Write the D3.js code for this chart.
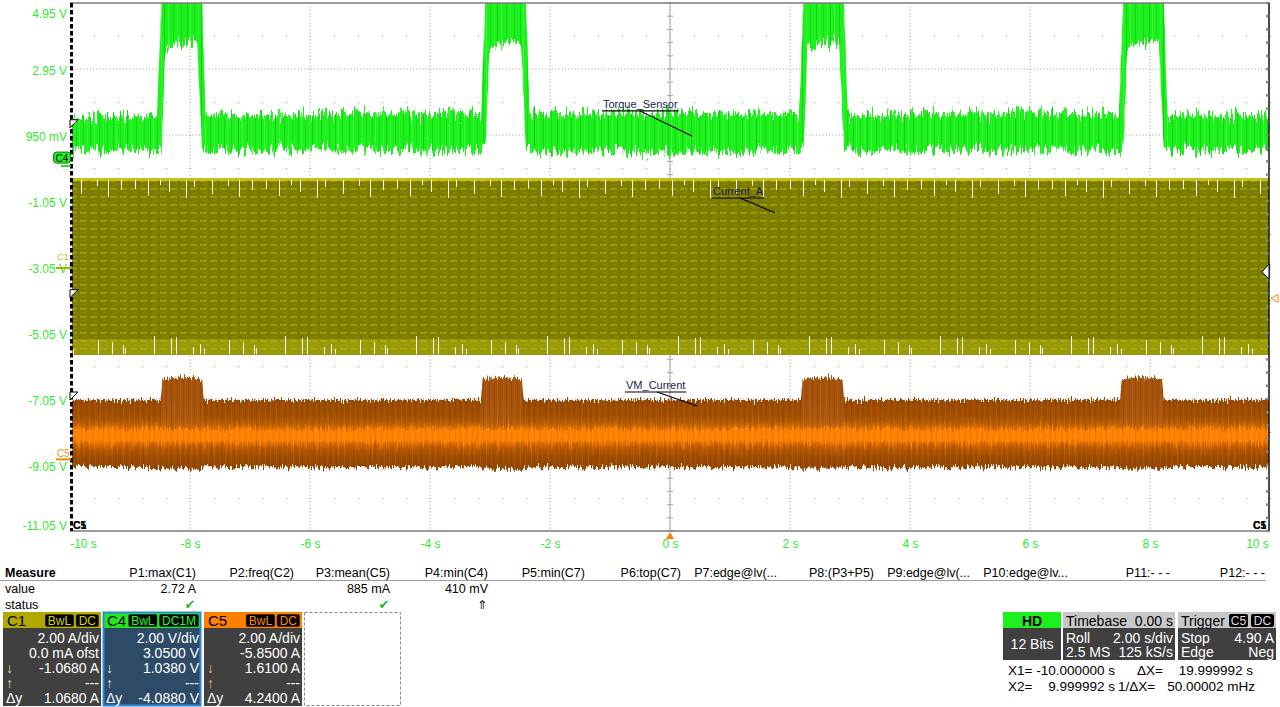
<!DOCTYPE html>
<html><head><meta charset="utf-8">
<script src="https://cdn.jsdelivr.net/npm/d3@7"></script>
<style>
body{margin:0;background:#fff;}
svg{display:block;font-family:"Liberation Sans",Arial,sans-serif;}
</style></head><body><svg id="c" width="1280" height="707"></svg>
<script>
// ---------- DATA ----------
const xTickValues = [-10,-8,-6,-4,-2,0,2,4,6,8,10];
const xTickLabels = ["-10 s","-8 s","-6 s","-4 s","-2 s","0 s","2 s","4 s","6 s","8 s","10 s"];
const yTickValues = [4.95,2.95,0.95,-1.05,-3.05,-5.05,-7.05,-9.05,-11.05];
const yTickLabels = ["4.95 V","2.95 V","950 mV","-1.05 V","-3.05 V","-5.05 V","-7.05 V","-9.05 V","-11.05 V"];

// C4 Torque_Sensor envelope (time s, upper / lower edge, display volts)
const torqueTime = [-10,-9.5,-9,-8.55,-8.47,-8.41,-8.2,-7.95,-7.88,-7.8,-7.74,-7,-6,-5,-4,-3.15,-3.07,-3.01,-2.8,-2.55,-2.48,-2.4,-2.34,-1.5,-0.5,0.5,1.5,2.15,2.23,2.29,2.5,2.75,2.82,2.9,2.96,4,5,6,7,7.48,7.56,7.62,7.83,8.08,8.15,8.23,8.29,9,10];
const torqueHigh = [1.45,1.5,1.5,1.5,5.3,5.3,5.3,5.3,5.3,5.0,1.55,1.55,1.58,1.62,1.6,1.55,5.3,5.3,5.3,5.3,5.3,5.0,1.55,1.62,1.62,1.62,1.6,1.55,5.3,5.3,5.3,5.3,5.3,5.0,1.55,1.58,1.6,1.6,1.58,1.55,5.3,5.3,5.3,5.3,5.3,5.0,1.55,1.55,1.52];
const torqueLow  = [0.5,0.48,0.5,0.45,0.6,3.62,3.72,3.8,3.7,0.5,0.45,0.5,0.52,0.5,0.48,0.45,0.6,3.62,3.72,3.8,3.7,0.5,0.45,0.45,0.42,0.42,0.45,0.45,0.6,3.62,3.72,3.8,3.7,0.5,0.45,0.48,0.5,0.48,0.48,0.45,0.6,3.62,3.72,3.8,3.7,0.5,0.45,0.48,0.5];

// C1 Current_A envelope
const currentTime = [-10, 10];
const currentHigh = [-0.35, -0.35];
const currentLow  = [-5.72, -5.72];

// C5 VM_Current envelope
const vmTime = [-10,-8.49,-8.46,-8.12,-7.8,-7.77,-3.15,-3.12,-2.78,-2.47,-2.44,2.18,2.21,2.55,2.87,2.9,7.5,7.53,7.87,8.2,8.23,10];
const vmHigh = [-7.08,-7.08,-6.45,-6.38,-6.45,-7.08,-7.08,-6.45,-6.38,-6.45,-7.08,-7.08,-6.45,-6.38,-6.45,-7.08,-7.08,-6.45,-6.38,-6.45,-7.08,-7.08];
const vmLow  = [-9.1,-9.12,-9.16,-9.16,-9.16,-9.12,-9.12,-9.16,-9.16,-9.16,-9.12,-9.12,-9.16,-9.16,-9.16,-9.12,-9.12,-9.16,-9.16,-9.16,-9.12,-9.1];
const vmGlowHigh = [-7.92,-7.92,-6.45,-6.38,-6.45,-7.92,-7.92,-6.45,-6.38,-6.45,-7.92,-7.92,-6.45,-6.38,-6.45,-7.92,-7.92,-6.45,-6.38,-6.45,-7.92,-7.92];
const vmCoreTime = [-10, 10];
const vmCoreHigh = [-7.95, -7.95];
const vmCoreLow  = [-8.32, -8.32];

// annotations
const annoLabels = ["Torque_Sensor","Current_A","VM_Current"];

// measurement table
const measureNames  = ["P1:max(C1)","P2:freq(C2)","P3:mean(C5)","P4:min(C4)","P5:min(C7)","P6:top(C7)","P7:edge@lv(...","P8:(P3+P5)","P9:edge@lv(...","P10:edge@lv...","P11:- - -","P12:- - -"];
const measureValues = ["2.72 A","","885 mA","410 mV","","","","","","","",""];
const measureStatus = ["\u2714","","\u2714","\u21D1","","","","","","","",""];

// channel descriptors
const chanNames = ["C1","C4","C5"];
const chanBadges = [["BwL","DC"],["BwL","DC1M"],["BwL","DC"]];
const chanRows = [
  ["2.00 A/div","0.0 mA ofst","-1.0680 A","---","1.0680 A"],
  ["2.00 V/div","3.0500 V","1.0380 V","---","-4.0880 V"],
  ["2.00 A/div","-5.8500 A","1.6100 A","---","4.2400 A"]
];
const rowPrefix = ["","","\u2193","\u2191","\u0394y"];

// ---------- LAYOUT ----------
const L = 70, R = 1270, T = 3, B = 531;
const svg = d3.select("#c");
const x = d3.scaleLinear().domain([-10,10]).range([L,R]);
const y = d3.scaleLinear().domain([-11.05,4.95]).range([B,T]);
const defs = svg.append("defs");

defs.append("clipPath").attr("id","plotClip").append("rect")
  .attr("x",L+2).attr("y",T).attr("width",R-L-3).attr("height",B-T);

// green texture
const gp = defs.append("pattern").attr("id","greenPat").attr("patternUnits","userSpaceOnUse").attr("width",37).attr("height",14);
gp.append("rect").attr("width",37).attr("height",14).attr("fill","#1ef01e");
[[2,"#12d812"],[5,"#38fc38"],[9,"#16dc16"],[13,"#30f630"],[16,"#0ed20e"],[20,"#3afe3a"],[25,"#14d614"],[29,"#2ef42e"],[33,"#18da18"]].forEach(([px,c])=>
  gp.append("rect").attr("x",px).attr("width",1).attr("height",14).attr("fill",c));

const op = defs.append("pattern").attr("id","olivePat").attr("patternUnits","userSpaceOnUse")
  .attr("width",10).attr("height",8).attr("y",y(currentHigh[0]));
op.append("rect").attr("width",10).attr("height",8).attr("fill","#7b7b00");
op.append("rect").attr("y",2).attr("width",7).attr("height",2).attr("fill","#9e9e00");
op.append("rect").attr("x",3).attr("y",6).attr("width",5).attr("height",1).attr("fill","#8a8a00");

const spikeX = [4,17,29,38,55,63,81,97,108,121];
const spikeLen = [9,16,5,12,18,7,14,6,17,10];
const tp = defs.append("pattern").attr("id","oliveTop").attr("patternUnits","userSpaceOnUse")
  .attr("width",131).attr("height",40).attr("y",y(currentHigh[0]));
tp.append("rect").attr("width",131).attr("height",3).attr("fill","#c2c218");
spikeX.forEach((sx,i)=>tp.append("rect").attr("x",sx).attr("y",2).attr("width",1).attr("height",spikeLen[i]).attr("fill","#ffffff"));
const bp = defs.append("pattern").attr("id","oliveBot").attr("patternUnits","userSpaceOnUse")
  .attr("width",131).attr("height",40).attr("y",y(currentLow[0])-40);
bp.append("rect").attr("y",24).attr("width",131).attr("height",16).attr("fill","#b6b610").attr("opacity",0.5);
spikeX.forEach((sx,i)=>bp.append("rect").attr("x",(sx*3+11)%131).attr("y",40-spikeLen[(i+4)%10]-1).attr("width",1).attr("height",spikeLen[(i+4)%10]).attr("fill","#ffffff"));

const og = defs.append("linearGradient").attr("id","orangeGrad").attr("gradientUnits","userSpaceOnUse")
  .attr("x1",0).attr("x2",0).attr("y1",y(-7.08)).attr("y2",y(-9.12));
[[0,"#9a4800"],[0.25,"#a45000"],[0.37,"#c06000"],[0.45,"#ff8000"],[0.6,"#ff8000"],[0.7,"#c05c00"],[0.84,"#9e4c00"],[1,"#944600"]]
  .forEach(([o,c])=>og.append("stop").attr("offset",o).attr("stop-color",c));

const sp = defs.append("pattern").attr("id","streak").attr("patternUnits","userSpaceOnUse").attr("width",17).attr("height",10);
[[1,"#000",0.08],[4,"#fff",0.06],[7,"#000",0.06],[10,"#fff",0.05],[13,"#000",0.08],[15,"#fff",0.04]].forEach(([px,c,o])=>
  sp.append("rect").attr("x",px).attr("width",1).attr("height",10).attr("fill",c).attr("opacity",o));

function rough(id, fx, fy, sc, seed, oct){
  const f = defs.append("filter").attr("id",id).attr("x","-1%").attr("y","-40%").attr("width","102%").attr("height","180%")
    .attr("color-interpolation-filters","sRGB");
  f.append("feTurbulence").attr("type","fractalNoise").attr("baseFrequency",fx+" "+fy).attr("numOctaves",oct).attr("seed",seed).attr("result","n");
  f.append("feColorMatrix").attr("in","n").attr("type","matrix")
    .attr("values","1 0 0 0 0  0 0 0 0 0.5  0 0 0 0 0  0 0 0 0 1").attr("result","m");
  f.append("feDisplacementMap").attr("in","SourceGraphic").attr("in2","m").attr("scale",sc).attr("xChannelSelector","G").attr("yChannelSelector","R");
}
rough("roughG",0.45,0.05,28,3,3);
rough("roughO",0.7,0.05,13,7,3);

// ---------- GRID ----------
const grid = svg.append("g");
const dotC = "#9a9a9a";
xTickValues.slice(1,-1).forEach(v=>{
  grid.append("line").attr("x1",x(v)).attr("x2",x(v)).attr("y1",T).attr("y2",B)
    .attr("stroke",dotC).attr("stroke-dasharray","1,2.3");
});
yTickValues.slice(1,-1).forEach(v=>{
  grid.append("line").attr("x1",L).attr("x2",R).attr("y1",y(v)).attr("y2",y(v))
    .attr("stroke",dotC).attr("stroke-dasharray","1,2.3");
});
const halfRows = d3.range(0,8).map(i=>yTickValues[i]-1);
const minorX = d3.range(-10,10.01,0.4);
halfRows.forEach(v=>minorX.forEach(t=>{
  grid.append("rect").attr("x",x(t)).attr("y",y(v)).attr("width",1).attr("height",1).attr("fill",dotC);
}));
grid.append("line").attr("x1",x(0)).attr("x2",x(0)).attr("y1",T).attr("y2",B).attr("stroke","#a8a8a8");
grid.append("line").attr("x1",L).attr("x2",R).attr("y1",y(-3.05)).attr("y2",y(-3.05)).attr("stroke","#a8a8a8");
d3.range(-11.05,4.96,0.4).forEach(v=>grid.append("line").attr("x1",x(0)-3).attr("x2",x(0)+3).attr("y1",y(v)).attr("y2",y(v)).attr("stroke","#a8a8a8"));
minorX.forEach(t=>grid.append("line").attr("x1",x(t)).attr("x2",x(t)).attr("y1",y(-3.05)-3).attr("y2",y(-3.05)+3).attr("stroke","#a8a8a8"));

// ---------- TRACES ----------
const traces = svg.append("g").attr("clip-path","url(#plotClip)");

const areaC = d3.area().x((d,i)=>x(currentTime[i])).y0((d,i)=>y(currentLow[i])).y1((d,i)=>y(currentHigh[i]));
traces.append("path").datum(currentTime).attr("d",areaC).attr("fill","url(#olivePat)");
const areaCTop = d3.area().x((d,i)=>x(currentTime[i])).y0((d,i)=>y(currentHigh[i])+20).y1((d,i)=>y(currentHigh[i]));
traces.append("path").datum(currentTime).attr("d",areaCTop).attr("fill","url(#oliveTop)");
const areaCBot = d3.area().x((d,i)=>x(currentTime[i])).y0((d,i)=>y(currentLow[i])).y1((d,i)=>y(currentLow[i])-20);
traces.append("path").datum(currentTime).attr("d",areaCBot).attr("fill","url(#oliveBot)");

const og1 = traces.append("g").attr("filter","url(#roughO)");
const areaV = d3.area().x((d,i)=>x(vmTime[i])).y0((d,i)=>y(vmLow[i])).y1((d,i)=>y(vmHigh[i]));
og1.append("path").datum(vmTime).attr("d",areaV).attr("fill","url(#orangeGrad)");
const areaVG = d3.area().x((d,i)=>x(vmTime[i])).y0((d,i)=>y(vmCoreHigh[0])).y1((d,i)=>y(vmGlowHigh[i]));
og1.append("path").datum(vmTime).attr("d",areaVG).attr("fill","#b8621c").attr("opacity",0.4);
const areaVC = d3.area().x((d,i)=>x(vmCoreTime[i])).y0((d,i)=>y(vmCoreLow[i])).y1((d,i)=>y(vmCoreHigh[i]));
og1.append("path").datum(vmCoreTime).attr("d",areaVC).attr("fill","#ff8200").attr("opacity",0.8);
og1.append("path").datum(vmTime).attr("d",areaV).attr("fill","url(#streak)");

const areaT = d3.area().x((d,i)=>x(torqueTime[i])).y0((d,i)=>y(torqueLow[i])).y1((d,i)=>y(torqueHigh[i]));
traces.append("path").datum(torqueTime).attr("d",areaT).attr("fill","url(#greenPat)").attr("filter","url(#roughG)");

// ---------- BORDERS ----------
svg.append("line").attr("x1",L).attr("x2",R).attr("y1",T).attr("y2",T).attr("stroke","#7a7a7a").attr("stroke-width",1.3);
svg.append("line").attr("x1",L).attr("x2",R).attr("y1",B).attr("y2",B).attr("stroke","#7a7a7a").attr("stroke-width",1.3);
svg.append("line").attr("x1",L+1.5).attr("x2",L+1.5).attr("y1",T).attr("y2",B).attr("stroke","#000").attr("stroke-width",3).attr("stroke-dasharray","4.5,2.5");
svg.append("line").attr("x1",R-1).attr("x2",R-1).attr("y1",T).attr("y2",B).attr("stroke","#111").attr("stroke-width",1.5);
d3.range(-11.05,4.96,0.4).forEach(v=>svg.append("line").attr("x1",R-4).attr("x2",R-1.5).attr("y1",y(v)).attr("y2",y(v)).attr("stroke","#888").attr("stroke-width",2.5));

// ---------- AXES ----------
const labelGreen = "#33e833";
const ya = svg.append("g").attr("transform",`translate(${L-3},0)`)
  .call(d3.axisLeft(y).tickValues(yTickValues).tickFormat((d,i)=>yTickLabels[i]).tickSize(0).tickPadding(0));
ya.select(".domain").remove();
ya.selectAll("text").attr("fill",labelGreen).attr("font-size",12).attr("font-family","Liberation Sans, Arial")
  .attr("y",(d,i)=> i===0 ? 11 : (i===yTickValues.length-1 ? -5 : 2));
const xa = svg.append("g").attr("transform",`translate(0,${B+8})`)
  .call(d3.axisBottom(x).tickValues(xTickValues).tickFormat((d,i)=>xTickLabels[i]).tickSize(0).tickPadding(0));
xa.select(".domain").remove();
xa.selectAll("text").attr("fill",labelGreen).attr("font-size",12).attr("font-family","Liberation Sans, Arial")
  .attr("x",(d,i)=> i===0 ? 13 : (i===xTickValues.length-1 ? -13 : 0));

// ---------- MARKERS ----------
svg.append("rect").attr("x",53.5).attr("y",y(0.25)-6).attr("width",17).attr("height",11).attr("rx",3)
  .attr("fill","#22f022").attr("stroke","#0a7a0a");
svg.append("text").attr("x",62).attr("y",y(0.25)+3.5).attr("text-anchor","middle").attr("font-size",10).attr("fill","#000").text("C4");
svg.append("line").attr("x1",61).attr("x2",71).attr("y1",y(0.25)+8).attr("y2",y(0.25)+8).attr("stroke","#22dd22").attr("stroke-width",2);
svg.append("text").attr("x",57).attr("y",y(-3.05)-7).attr("font-size",9.5).attr("fill","#c8b838").text("C1");
svg.append("line").attr("x1",56).attr("x2",72).attr("y1",y(-3.05)+1).attr("y2",y(-3.05)+1).attr("stroke","#b8a800").attr("stroke-width",2);
svg.append("text").attr("x",57).attr("y",y(-8.85)-1).attr("font-size",10).attr("fill","#ff8a10").text("C5");
svg.append("line").attr("x1",56).attr("x2",71).attr("y1",y(-8.85)+1).attr("y2",y(-8.85)+1).attr("stroke","#ff8000").attr("stroke-width",2);
[1.2,-3.95,-7.05].forEach(v=>{
  const yy=y(v);
  svg.append("path").attr("d",`M${L},${yy-7}L${L+8},${yy-7}L${L},${yy+1}Z`).attr("fill","#fff").attr("stroke","#000").attr("stroke-width",1);
});
svg.append("path").attr("d",`M${R-1},${y(-3.05)-3}L${R-8},${y(-3.05)+5}L${R-1},${y(-3.05)+12}Z`).attr("fill","#fff").attr("stroke","#000");
svg.append("path").attr("d",`M1278,${y(-4.0)-4}L1271,${y(-4.0)}L1278,${y(-4.0)+4}Z`).attr("fill","none").attr("stroke","#ff8000");
svg.append("path").attr("d",`M${x(0)-4},${B+8}L${x(0)},${B+1}L${x(0)+4},${B+8}Z`).attr("fill","#ff8000");
["C5","C1"].forEach(s=>{
  svg.append("text").attr("x",L+3).attr("y",B-2).attr("font-size",10.5).attr("font-weight","bold").attr("fill","#000").text(s);
  svg.append("text").attr("x",R-17).attr("y",B-2).attr("font-size",10.5).attr("font-weight","bold").attr("fill","#000").text(s);
});

// ---------- ANNOTATIONS ----------
const annoPos = [
  {tx:-1.117, ty:1.77, lx0:-0.5, lx1:0.367, ly1:0.92},
  {tx:0.717, ty:-0.868, lx0:1.167, lx1:1.75, ly1:-1.41},
  {tx:-0.733, ty:-6.747, lx0:-0.217, lx1:0.45, ly1:-7.26}
];
annoLabels.forEach((s,i)=>{
  const p = annoPos[i];
  const t = svg.append("text").attr("x",x(p.tx)).attr("y",y(p.ty)).attr("font-size",11).attr("fill","#1c1c50").text(s);
  const w = t.node().getComputedTextLength();
  const uy = y(p.ty)+3;
  svg.append("line").attr("x1",x(p.tx)-1).attr("x2",x(p.tx)+w+1).attr("y1",uy).attr("y2",uy).attr("stroke","#000").attr("stroke-width",1.2);
  svg.append("line").attr("x1",x(p.lx0)).attr("y1",uy).attr("x2",x(p.lx1)).attr("y2",y(p.ly1)).attr("stroke","#000").attr("stroke-width",1.1);
});

// ---------- MEASURE TABLE ----------
const mEnds = [196,294,390,488,585,681,777,874,970,1068,1170,1265];
svg.append("text").attr("x",5).attr("y",577).attr("font-size",12.5).attr("font-weight","bold").text("Measure");
svg.append("text").attr("x",5).attr("y",593).attr("font-size",12.5).text("value");
svg.append("text").attr("x",5).attr("y",609).attr("font-size",12.5).text("status");
svg.append("line").attr("x1",0).attr("x2",1266).attr("y1",580.5).attr("y2",580.5).attr("stroke","#a0a0a0");
measureNames.forEach((s,i)=>{
  svg.append("text").attr("x",mEnds[i]).attr("y",577).attr("text-anchor","end").attr("font-size",12.5).text(s);
  if(measureValues[i]) svg.append("text").attr("x",mEnds[i]).attr("y",593).attr("text-anchor","end").attr("font-size",12.5).text(measureValues[i]);
  if(measureStatus[i]) svg.append("text").attr("x",mEnds[i]-6).attr("y",609).attr("text-anchor","middle")
    .style("font-family","'DejaVu Sans'").attr("font-size",measureStatus[i]==="\u2714"?13:12)
    .style("fill",measureStatus[i]==="\u2714"?"#22bb22":"#000000").text(measureStatus[i]);
});

// ---------- CHANNEL BOXES ----------
const boxX = [3,103,204];
const hdrCol = ["#b3a800","#1fe81f","#ff8000"];
const bodyCol = ["#404040","#2d4a66","#404040"];
const badgeTxt = ["#d8d000","#22ff22","#ff8800"];
const arrowCol = ["#e0dc80","#e8e8e8","#ffb060"];
chanNames.forEach((c,i)=>{
  const bx = boxX[i];
  svg.append("rect").attr("x",bx).attr("y",612).attr("width",98).attr("height",94).attr("fill",bodyCol[i]);
  svg.append("rect").attr("x",bx).attr("y",612).attr("width",98).attr("height",16).attr("fill",hdrCol[i]);
  if(i===1) svg.append("rect").attr("x",bx+0.5).attr("y",612.5).attr("width",97).attr("height",93).attr("fill","none").attr("stroke","#2a8ae0").attr("stroke-width",2);
  svg.append("text").attr("x",bx+4).attr("y",626).attr("font-size",15).attr("fill","#000").text(c);
  let right = bx+96;
  chanBadges[i].slice().reverse().forEach(b=>{
    const t = svg.append("text").attr("font-size",12).attr("y",625).text(b);
    const w = t.node().getComputedTextLength()+6;
    svg.insert("rect", function(){return t.node();}).attr("x",right-w).attr("y",614).attr("width",w).attr("height",13).attr("rx",2)
      .attr("fill","#000").attr("stroke",badgeTxt[i]).attr("stroke-width",0.6);
    t.attr("x",right-w+3).attr("fill",badgeTxt[i]);
    right -= w+1.5;
  });
  chanRows[i].forEach((s,r)=>{
    const yy = 643 + r*15;
    svg.append("text").attr("x",bx+96).attr("y",yy).attr("text-anchor","end").attr("font-size",14).attr("fill","#fff").text(s);
    if(rowPrefix[r]) svg.append("text").attr("x",bx+3).attr("y",yy).attr("font-size",14)
      .attr("fill", r===4 ? "#fff" : arrowCol[i]).text(rowPrefix[r]);
  });
});
svg.append("rect").attr("x",304.5).attr("y",612.5).attr("width",96).attr("height",93).attr("fill","none")
  .attr("stroke","#888").attr("stroke-dasharray","3,2");

// ---------- RIGHT PANEL ----------
const rp = svg.append("g").attr("font-size",14);
rp.append("rect").attr("x",1003).attr("y",612).attr("width",58).attr("height",48).attr("fill","#404040");
rp.append("rect").attr("x",1003).attr("y",612).attr("width",58).attr("height",16).attr("fill","#1ef01e");
rp.append("text").attr("x",1032).attr("y",626).attr("text-anchor","middle").attr("font-weight","bold").text("HD");
rp.append("text").attr("x",1032).attr("y",649).attr("text-anchor","middle").attr("fill","#fff").text("12 Bits");

rp.append("rect").attr("x",1063).attr("y",612).attr("width",112).attr("height",48).attr("fill","#404040");
rp.append("rect").attr("x",1063).attr("y",612).attr("width",112).attr("height",16).attr("fill","#c8c8c8");
rp.append("text").attr("x",1066).attr("y",626).text("Timebase");
rp.append("text").attr("x",1173).attr("y",626).attr("text-anchor","end").text("0.00 s");
rp.append("text").attr("x",1066).attr("y",643).attr("fill","#fff").text("Roll");
rp.append("text").attr("x",1173).attr("y",643).attr("text-anchor","end").attr("fill","#fff").text("2.00 s/div");
rp.append("text").attr("x",1066).attr("y",657).attr("fill","#fff").text("2.5 MS");
rp.append("text").attr("x",1173).attr("y",657).attr("text-anchor","end").attr("fill","#fff").text("125 kS/s");

rp.append("rect").attr("x",1178).attr("y",612).attr("width",98).attr("height",48).attr("fill","#404040");
rp.append("rect").attr("x",1178).attr("y",612).attr("width",98).attr("height",16).attr("fill","#c8c8c8");
rp.append("text").attr("x",1181).attr("y",626).text("Trigger");
[["C5",1229,19],["DC",1251,23]].forEach(([s,bx,w])=>{
  rp.append("rect").attr("x",bx).attr("y",614).attr("width",w).attr("height",13).attr("rx",2).attr("fill","#000");
  rp.append("text").attr("x",bx+w/2).attr("y",625).attr("text-anchor","middle").attr("font-size",12).attr("fill","#ddd").text(s);
});
rp.append("text").attr("x",1181).attr("y",643).attr("fill","#fff").text("Stop");
rp.append("text").attr("x",1274).attr("y",643).attr("text-anchor","end").attr("fill","#fff").text("4.90 A");
rp.append("text").attr("x",1181).attr("y",657).attr("fill","#fff").text("Edge");
rp.append("text").attr("x",1274).attr("y",657).attr("text-anchor","end").attr("fill","#fff").text("Neg");

const cur = svg.append("g").attr("font-size",13.5);
cur.append("text").attr("x",1008).attr("y",675).text("X1=");
cur.append("text").attr("x",1115).attr("y",675).attr("text-anchor","end").text("-10.000000 s");
cur.append("text").attr("x",1137).attr("y",675).text("\u0394X=");
cur.append("text").attr("x",1253).attr("y",675).attr("text-anchor","end").text("19.999992 s");
cur.append("text").attr("x",1008).attr("y",691).text("X2=");
cur.append("text").attr("x",1115).attr("y",691).attr("text-anchor","end").text("9.999992 s");
cur.append("text").attr("x",1118).attr("y",691).text("1/\u0394X=");
cur.append("text").attr("x",1255).attr("y",691).attr("text-anchor","end").text("50.00002 mHz");
</script></body></html>
